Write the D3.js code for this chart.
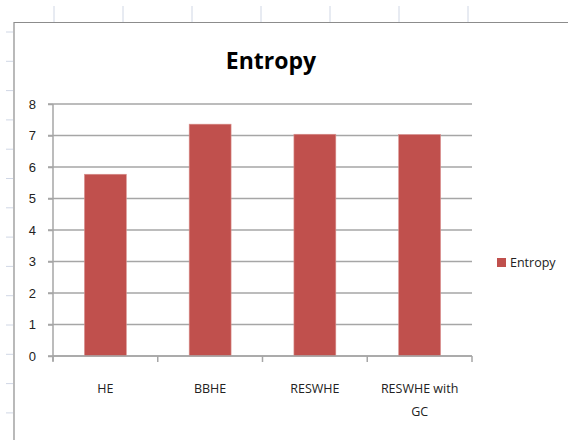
<!DOCTYPE html>
<html>
<head>
<meta charset="utf-8">
<script src="https://cdn.jsdelivr.net/npm/d3@7"></script>
<style>
  body { margin: 0; background: #fff; }
  svg { display: block; font-family: "Open Sans", "Noto Sans", sans-serif; }
</style>
</head>
<body>
<script>
// chart data
const categories = ["HE", "BBHE", "RESWHE", "RESWHE with GC"];
const entropy = [5.77, 7.36, 7.04, 7.03];
const yTicks = [0, 1, 2, 3, 4, 5, 6, 7, 8];
const seriesName = "Entropy";

const W = 568, H = 440;
const svg = d3.select("body").append("svg")
  .attr("width", W)
  .attr("height", H);

// spreadsheet background bits (column / row separators)
const colLines = [54, 123, 192, 261, 330, 399, 468];
svg.selectAll("line.col").data(colLines).enter().append("line")
  .attr("x1", d => d).attr("x2", d => d)
  .attr("y1", 6).attr("y2", 22)
  .attr("stroke", "#d0d7e5").attr("stroke-width", 1);
const rowLines = d3.range(32, H, 29.3);
svg.selectAll("line.row").data(rowLines).enter().append("line")
  .attr("x1", 6).attr("x2", 13)
  .attr("y1", d => d).attr("y2", d => d)
  .attr("stroke", "#d0d7e5").attr("stroke-width", 1);

// chart frame
svg.append("path")
  .attr("d", `M14,${H} L14,22.5 L${W},22.5`)
  .attr("fill", "none")
  .attr("stroke", "#8c8c8c")
  .attr("stroke-width", 1.2);

const plot = { left: 53, right: 472, top: 104, bottom: 356 };

const x = d3.scaleBand()
  .domain(categories)
  .range([plot.left, plot.right])
  .paddingInner(0.6)
  .paddingOuter(0.3);

const y = d3.scaleLinear()
  .domain([0, 8])
  .range([plot.bottom, plot.top]);

// gridlines
svg.append("g")
  .selectAll("line").data(yTicks).enter().append("line")
  .attr("x1", plot.left - 5).attr("x2", plot.right)
  .attr("y1", d => y(d)).attr("y2", d => y(d))
  .attr("stroke", "#a6a6a6").attr("stroke-width", 1.5);

// bars
svg.append("g")
  .selectAll("rect").data(categories).enter().append("rect")
  .attr("x", d => x(d))
  .attr("y", (d, i) => y(entropy[i]))
  .attr("width", x.bandwidth())
  .attr("height", (d, i) => y(0) - y(entropy[i]))
  .attr("fill", "#c0504d")
  .attr("stroke", "#d9928f")
  .attr("stroke-width", 0.6);

// y axis
const yAxis = svg.append("g")
  .attr("transform", `translate(${plot.left},0)`)
  .call(d3.axisLeft(y).tickValues(yTicks).tickSize(5).tickSizeOuter(0).tickPadding(12));
yAxis.select(".domain").attr("stroke", "#a6a6a6").attr("stroke-width", 1.5);
yAxis.selectAll(".tick line").attr("stroke", "#a6a6a6").attr("stroke-width", 1.5);
yAxis.selectAll("text").attr("font-size", 13).attr("fill", "#222");
yAxis.select(".domain").attr("d", `M0,${plot.top}V${plot.bottom + 5}`);

// x axis: separators between categories
const step = (plot.right - plot.left) / categories.length;
const sepTicks = d3.range(categories.length + 1).map(i => plot.left + i * step);
svg.append("line")
  .attr("x1", plot.left).attr("x2", plot.right)
  .attr("y1", plot.bottom).attr("y2", plot.bottom)
  .attr("stroke", "#a6a6a6").attr("stroke-width", 1.5);
svg.append("g")
  .selectAll("line").data(sepTicks).enter().append("line")
  .attr("x1", d => d).attr("x2", d => d)
  .attr("y1", plot.bottom).attr("y2", plot.bottom + 6)
  .attr("stroke", "#a6a6a6").attr("stroke-width", 1.5);

// category labels (wrap the long one)
const wrap = { "RESWHE with GC": ["RESWHE with", "GC"] };
const lbl = svg.append("g").selectAll("text").data(categories).enter().append("text")
  .attr("x", d => x(d) + x.bandwidth() / 2)
  .attr("y", 393)
  .attr("text-anchor", "middle")
  .attr("font-size", 12.5)
  .attr("fill", "#222");
lbl.each(function(d) {
  const lines = wrap[d] || [d];
  d3.select(this).selectAll("tspan").data(lines).enter().append("tspan")
    .attr("x", x(d) + x.bandwidth() / 2)
    .attr("dy", (l, i) => i ? 23 : 0)
    .text(l => l);
});

// title
svg.append("text")
  .attr("x", 271).attr("y", 69)
  .attr("text-anchor", "middle")
  .attr("font-size", 23)
  .attr("font-weight", "bold")
  .attr("fill", "#000")
  .text("Entropy");

// legend
svg.append("rect")
  .attr("x", 497).attr("y", 258)
  .attr("width", 9).attr("height", 9)
  .attr("fill", "#c0504d");
svg.append("text")
  .attr("x", 510).attr("y", 267)
  .attr("font-size", 12.5)
  .attr("fill", "#222")
  .text(seriesName);
</script>
</body>
</html>
